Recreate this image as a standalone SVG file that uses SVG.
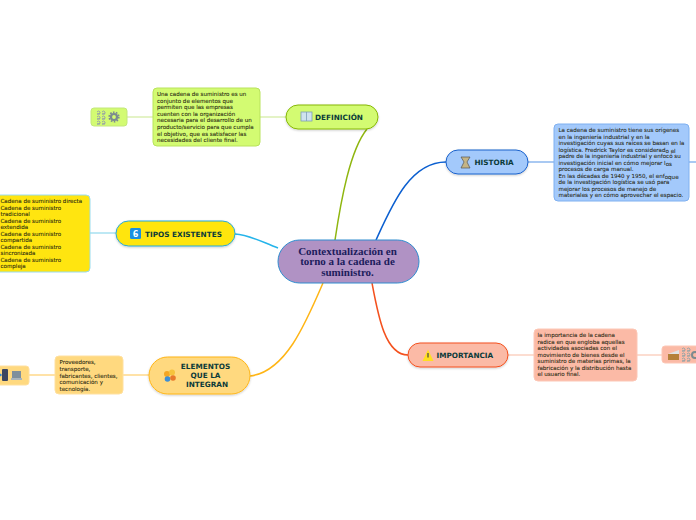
<svg xmlns="http://www.w3.org/2000/svg" width="696" height="520" viewBox="0 0 696 520">
<style>
text{font-family:"DejaVu Sans","Liberation Sans",sans-serif}
.n{font-size:5.55px;fill:#26260f;stroke:#26260f;stroke-width:.08}
.t{font-size:7.3px;font-weight:bold;fill:#0b3b3a}
.c{font-family:"Liberation Serif","DejaVu Serif",serif;font-size:11px;font-weight:bold;fill:#1c1c5c;text-anchor:middle}
.l{fill:none;stroke-width:1.5}
.p{fill:none;stroke-width:1.3}
</style>
<defs>
<filter id="s" x="-10%" y="-20%" width="120%" height="150%"><feDropShadow dx="0" dy="1" stdDeviation="1" flood-color="#000" flood-opacity=".2"/></filter>
<g id="gear"><circle r="3" fill="none" stroke="#7c8a90" stroke-width="2.200"/><circle r="4.800" fill="none" stroke="#7c8a90" stroke-width="1.600" stroke-dasharray="1.600 1.400"/></g>
<g id="num" fill="none" stroke="#98a4a6" stroke-width="1"><path d="M0 1q1.500-2 3 0t-3 2h3M5 1q1.500-2 3 0t-3 2h3M0 6q1.500-2 3 0t-3 2h3M5 6q1.500-2 3 0t-3 2h3M0 11q1.500-2 3 0t-3 2h3M5 11q1.500-2 3 0t-3 2h3"/></g>
</defs>
<g id="connectors">
<path class="l" stroke="#8fb60f" d="M335 240C341 200 350 150 367 129"/>
<path class="l" stroke="#0b5fd0" d="M376 240C392 205 410 162 446 162"/>
<path class="l" stroke="#25b4ea" d="M278 248C262 242 250 235 235 234"/>
<path class="l" stroke="#ffb515" d="M323 283C305 325 285 372 250 376"/>
<path class="l" stroke="#f4511e" d="M372 283C378 315 385 355 408 355"/>
<path class="p" stroke="#dcefb4" d="M127 117H153M260 117H286"/>
<path class="p" stroke="#8db8ee" d="M528 162H554M689 162H696"/>
<path class="p" stroke="#9adcee" d="M90 233H116"/>
<path class="p" stroke="#ffd98a" d="M29 375H55M123 375H149"/>
<path class="p" stroke="#fcd2c2" d="M508 355H534M637 355H662"/>
</g>
<g id="central"><rect x="278" y="240" width="141" height="43" rx="21.500" fill="#b092c4" stroke="#2e8ccf" stroke-width="1"/>
<text class="c" x="347.500" y="254.500">Contextualización en</text><text class="c" x="347.500" y="265">torno a la cadena de</text><text class="c" x="347.500" y="275.500">suministro.</text></g>
<g id="definicion"><rect x="286" y="105" width="92" height="24" rx="12" fill="#d3fb72" stroke="#86b806" filter="url(#s)"/>
<rect x="301" y="112" width="11" height="9" fill="#cfe3ee" stroke="#7d9fb5" stroke-width=".8"/><path d="M306.500 112V121" stroke="#7d9fb5" stroke-width=".8"/>
<text class="t" x="315" y="119.500">DEFINICIÓN</text></g>
<g id="definicion-nota"><rect x="153" y="88" width="107" height="58" rx="4" fill="#d3fb72" stroke="#b9e35c"/>
<text class="n"><tspan x="157" y="96">Una cadena de suministro es un</tspan><tspan x="157" y="102.600">conjunto de elementos que</tspan><tspan x="157" y="109.200">permiten que las empresas</tspan><tspan x="157" y="115.800">cuenten con la organización</tspan><tspan x="157" y="122.400">necesaria para el desarrollo de un</tspan><tspan x="157" y="129">producto/servicio para que cumpla</tspan><tspan x="157" y="135.600">el objetivo, que es satisfacer las</tspan><tspan x="157" y="142.200">necesidades del cliente final.</tspan></text></g>
<g id="definicion-iconos"><rect x="91" y="108" width="36" height="18" rx="3" fill="#d3fb72" stroke="#c3e87a"/>
<use href="#num" x="97" y="111"/><use href="#gear" x="114" y="117"/></g>
<g id="historia"><rect x="446" y="150" width="82" height="24" rx="12" fill="#a3c9fb" stroke="#1a62cc" filter="url(#s)"/>
<path d="M461 157H470L467 162L470 168H461L464 162Z" fill="#c4b486" stroke="#555" stroke-width=".7"/>
<text class="t" x="474.500" y="165">HISTORIA</text></g>
<g id="historia-nota"><rect x="554" y="124" width="135" height="77" rx="4" fill="#a3c9fb" stroke="#7fb0f0"/>
<text class="n"><tspan x="558.500" y="132">La cadena de suministro tiene sus orígenes</tspan><tspan x="558.500" y="138.500">en la ingeniería industrial y en la</tspan><tspan x="558.500" y="145">investigación cuyas sus raíces se basan en la</tspan><tspan x="558.500" y="151.500">logística. Fredrick Taylor es considerad</tspan><tspan dy="1.500">o el</tspan><tspan x="558.500" y="158">padre de la ingeniería industrial y enfocó su</tspan><tspan x="558.500" y="164.500">investigación inicial en cómo mejorar l</tspan><tspan dy="1.500">os</tspan><tspan x="558.500" y="171">procesos de carga manual.</tspan><tspan x="558.500" y="177.500">En las décadas de 1940 y 1950, el enf</tspan><tspan dy="1.500">oque</tspan><tspan x="558.500" y="184">de la investigación logística se usó para</tspan><tspan x="558.500" y="190.500">mejorar los procesos de manejo de</tspan><tspan x="558.500" y="197">materiales y en cómo aprovechar el espacio.</tspan></text></g>
<g id="tipos"><rect x="116" y="221" width="119" height="25" rx="12.500" fill="#ffe510" stroke="#25a9dc" filter="url(#s)"/>
<rect x="130" y="228" width="11" height="11" rx="1.500" fill="#1b8fe0"/><text x="135.500" y="237" font-size="8" font-weight="bold" fill="#fff" text-anchor="middle">6</text>
<text class="t" x="145" y="236.500">TIPOS EXISTENTES</text></g>
<g id="tipos-nota"><rect x="-8" y="195" width="98" height="77" rx="4" fill="#ffe510" stroke="#9adcee"/>
<text class="n"><tspan x="0.500" y="203">Cadena de suministro directa</tspan><tspan x="0.500" y="209.500">Cadena de suministro</tspan><tspan x="0.500" y="216">tradicional</tspan><tspan x="0.500" y="222.500">Cadena de suministro</tspan><tspan x="0.500" y="229">extendida</tspan><tspan x="0.500" y="235.500">Cadena de suministro</tspan><tspan x="0.500" y="242">compartida</tspan><tspan x="0.500" y="248.500">Cadena de suministro</tspan><tspan x="0.500" y="255">sincronizada</tspan><tspan x="0.500" y="261.500">Cadena de suministro</tspan><tspan x="0.500" y="268">compleja</tspan></text></g>
<g id="elementos"><rect x="149" y="357" width="101" height="37" rx="18.500" fill="#ffd97f" stroke="#ffb515" filter="url(#s)"/>
<circle cx="167" cy="374" r="3" fill="#f5a623"/><circle cx="172" cy="372.500" r="3" fill="#f6c33c"/><circle cx="167.500" cy="379" r="2.800" fill="#3d8fd6"/><circle cx="173" cy="378" r="2.800" fill="#e8792b"/>
<text class="t" text-anchor="middle"><tspan x="205.500" y="369">ELEMENTOS</tspan><tspan x="205.500" y="378">QUE LA</tspan><tspan x="207" y="387">INTEGRAN</tspan></text></g>
<g id="elementos-nota"><rect x="55" y="356" width="68" height="38" rx="4" fill="#ffd97f" stroke="#ffe0a0"/>
<text class="n"><tspan x="59.500" y="364">Proveedores,</tspan><tspan x="59.500" y="371">transporte,</tspan><tspan x="59.500" y="377.500">fabricantes, clientes,</tspan><tspan x="59.500" y="384">comunicación y</tspan><tspan x="59.500" y="390.500">tecnología.</tspan></text></g>
<g id="elementos-iconos"><rect x="-10" y="366" width="39" height="19" rx="3" fill="#ffd97f" stroke="#ffe0a0"/>
<rect x="2" y="369" width="6" height="12" rx="1" fill="#3c4660"/><rect x="12" y="371" width="9" height="7" fill="#7e8f9c"/><rect x="11" y="378" width="11" height="2" fill="#a9b4ba"/><circle cx="0.500" cy="375" r="1.200" fill="#2e86d6"/></g>
<g id="importancia"><rect x="408" y="343" width="100" height="24" rx="12" fill="#fbbaa6" stroke="#f4511e" filter="url(#s)"/>
<path d="M428 349.500L433.500 361H422.500Z" fill="#ffdf20"/><rect x="427.400" y="353" width="1.200" height="4.500" fill="#444"/>
<text class="t" x="436.500" y="357.500">IMPORTANCIA</text></g>
<g id="importancia-nota"><rect x="534" y="329" width="103" height="52" rx="4" fill="#fbbaa6" stroke="#fcc7b6"/>
<text class="n"><tspan x="537.500" y="337">la importancia de la cadena</tspan><tspan x="537.500" y="343.500">radica en que engloba aquellas</tspan><tspan x="537.500" y="350">actividades asociadas con el</tspan><tspan x="537.500" y="356.500">movimiento de bienes desde el</tspan><tspan x="537.500" y="363">suministro de materias primas, la</tspan><tspan x="537.500" y="369.500">fabricación y la distribución hasta</tspan><tspan x="537.500" y="376">el usuario final.</tspan></text></g>
<g id="importancia-iconos"><rect x="662" y="346" width="44" height="17" rx="3" fill="#fbbaa6" stroke="#fcc7b6"/>
<rect x="668" y="354" width="11" height="6" fill="#b5813a"/><path d="M668 354L679 350V354Z" fill="#e0e4e6"/><use href="#num" x="682" y="348"/><circle cx="695" cy="355" r="3" fill="none" stroke="#7c8a90" stroke-width="2"/></g>
</svg>
